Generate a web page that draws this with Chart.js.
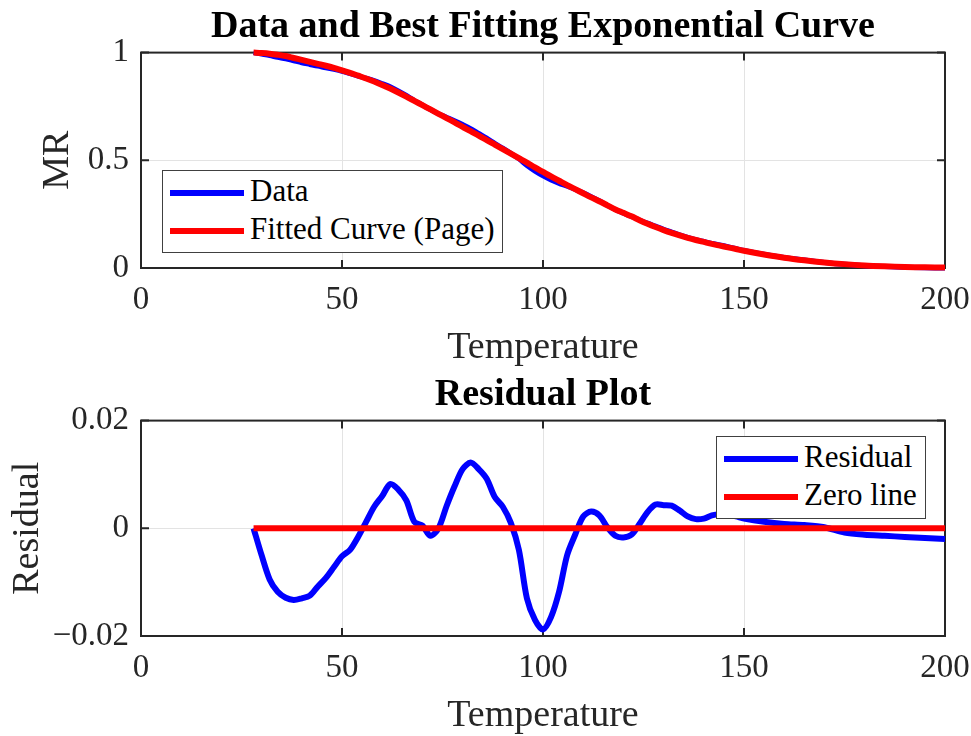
<!DOCTYPE html>
<html>
<head>
<meta charset="utf-8">
<script src="https://cdn.jsdelivr.net/npm/chart.js@4.4.1/dist/chart.umd.min.js"></script>
<style>
  body { margin: 0; background: #fff; }
  .panel { position: relative; width: 971px; height: 368px; }
  .legend {
    position: absolute; background: #fff; border: 1px solid #404040;
    font-family: 'Liberation Serif', 'Times New Roman', serif; font-size: 31px; color: #000;
    box-sizing: border-box;
  }
  .legend .row { position: absolute; left: 0; height: 36px; white-space: nowrap; }
  .legend .swatch { position: absolute; top: 15px; height: 6px; width: 74px; left: 7px; }
  .legend .txt { position: absolute; left: 87px; top: -2px; line-height: 36px; }
</style>
</head>
<body>
<div class="panel">
  <canvas id="mrChart" width="971" height="368"></canvas>
  <div class="legend" id="mrLegend" style="left:162px; top:170px; width:341px; height:83px;">
    <div class="row" style="top:4px;"><span class="swatch" style="background:#0000ff"></span><span class="txt">Data</span></div>
    <div class="row" style="top:42px;"><span class="swatch" style="background:#ff0000"></span><span class="txt">Fitted Curve (Page)</span></div>
  </div>
</div>
<div class="panel">
  <canvas id="resChart" width="971" height="368"></canvas>
  <div class="legend" id="resLegend" style="left:716px; top:68px; width:210px; height:83px;">
    <div class="row" style="top:4px;"><span class="swatch" style="background:#0000ff"></span><span class="txt">Residual</span></div>
    <div class="row" style="top:42px;"><span class="swatch" style="background:#ff0000"></span><span class="txt">Zero line</span></div>
  </div>
</div>
<script>
// temperature grid of the samples
const temperature = [28, 30, 32, 34, 36, 38, 40, 42, 44, 46, 48, 50, 52, 54, 56, 58, 60, 62, 64, 66,
  68, 70, 72, 74, 76, 78, 80, 82, 84, 86, 88, 90, 92, 94, 96, 98, 100, 102, 104, 106,
  108, 110, 112, 114, 116, 118, 120, 122, 124, 126, 128, 130, 132, 134, 136, 138, 140, 142, 144, 146,
  148, 150, 155, 160, 165, 170, 175, 180, 185, 190, 195, 200];

const mrData = [1.000, 0.993, 0.986, 0.978, 0.971, 0.962, 0.953, 0.945, 0.937, 0.930, 0.922, 0.913, 0.902, 0.891, 0.881, 0.870, 0.856, 0.841, 0.822, 0.801,
  0.777, 0.757, 0.735, 0.716, 0.700, 0.684, 0.666, 0.647, 0.625, 0.603, 0.579, 0.556, 0.532, 0.507, 0.476, 0.450, 0.428, 0.409, 0.393, 0.380,
  0.365, 0.349, 0.331, 0.312, 0.291, 0.271, 0.254, 0.239, 0.223, 0.208, 0.194, 0.180, 0.167, 0.154, 0.142, 0.132, 0.123, 0.114, 0.107, 0.099,
  0.090, 0.082, 0.064, 0.049, 0.037, 0.026, 0.017, 0.011, 0.007, 0.003, 0.001, 0.000];

const mrFitted = [1.000, 0.998, 0.995, 0.990, 0.984, 0.975, 0.966, 0.957, 0.948, 0.939, 0.929, 0.918, 0.906, 0.893, 0.880, 0.866, 0.850, 0.833, 0.815, 0.796,
  0.776, 0.756, 0.736, 0.716, 0.696, 0.676, 0.655, 0.635, 0.614, 0.594, 0.573, 0.552, 0.531, 0.510, 0.489, 0.467, 0.446, 0.425, 0.405, 0.385,
  0.366, 0.347, 0.328, 0.310, 0.291, 0.272, 0.256, 0.240, 0.222, 0.205, 0.190, 0.176, 0.163, 0.151, 0.140, 0.130, 0.121, 0.112, 0.104, 0.096,
  0.088, 0.080, 0.063, 0.048, 0.036, 0.026, 0.018, 0.012, 0.008, 0.005, 0.003, 0.002];

const residual = [0.0000, -0.0050, -0.0095, -0.0118, -0.0129, -0.0133, -0.0130, -0.0125, -0.0108, -0.0092, -0.0072, -0.0052, -0.0040, -0.0016, 0.0012, 0.0040, 0.0060, 0.0082, 0.0072, 0.0052,
  0.0012, 0.0005, -0.0014, 0.0000, 0.0041, 0.0078, 0.0110, 0.0122, 0.0110, 0.0092, 0.0058, 0.0040, 0.0010, -0.0040, -0.0130, -0.0170, -0.0188, -0.0165, -0.0118, -0.0050,
  -0.0012, 0.0022, 0.0031, 0.0024, 0.0002, -0.0014, -0.0017, -0.0012, 0.0008, 0.0030, 0.0044, 0.0043, 0.0042, 0.0033, 0.0022, 0.0017, 0.0018, 0.0024, 0.0026, 0.0025,
  0.0022, 0.0018, 0.0012, 0.0008, 0.0006, 0.0002, -0.0008, -0.0012, -0.0014, -0.0016, -0.0018, -0.0020];

const zeroLineX = [28, 200];
const zeroLineY = [0, 0];

const xTicks = [0, 50, 100, 150, 200];
const mrTicks = [0, 0.5, 1];
const residualTicks = [-0.02, 0, 0.02];

const FONT = "'Liberation Serif', 'Times New Roman', serif";
const INK = '#262626';

function pts(xs, ys) {
  return xs.map((x, i) => ({ x: x, y: ys[i] }));
}

// MATLAB style box with inward ticks
const boxPlugin = {
  id: 'box',
  beforeDatasetsDraw(chart) {
    const { ctx, chartArea: a, scales: { x, y } } = chart;
    ctx.save();
    ctx.strokeStyle = INK;
    ctx.lineWidth = 2;
    ctx.strokeRect(a.left, a.top, a.right - a.left, a.bottom - a.top);
    ctx.beginPath();
    x.ticks.forEach(t => {
      const px = x.getPixelForValue(t.value);
      ctx.moveTo(px, a.bottom); ctx.lineTo(px, a.bottom - 8);
      ctx.moveTo(px, a.top); ctx.lineTo(px, a.top + 8);
    });
    y.ticks.forEach(t => {
      const py = y.getPixelForValue(t.value);
      ctx.moveTo(a.left, py); ctx.lineTo(a.left + 8, py);
      ctx.moveTo(a.right, py); ctx.lineTo(a.right - 8, py);
    });
    ctx.stroke();
    ctx.restore();
  }
};

function tickText(v) {
  const s = String(Number(v.toFixed(4)));
  return s.replace('-', '\u2212');
}

function makeOptions(title, yTitle, yTitlePad, yMin, yMax, yTicks) {
  return {
    responsive: false,
    animation: false,
    layout: { padding: { left: 0, right: 26, top: 0, bottom: 0 } },
    plugins: {
      legend: { display: false },
      tooltip: { enabled: false },
      title: {
        display: true, fullSize: false, text: title, color: '#000',
        font: { family: FONT, size: 38, weight: 'bold' },
        padding: { top: 4, bottom: 3 }
      }
    },
    elements: { point: { radius: 0 } },
    scales: {
      x: {
        type: 'linear', min: 0, max: 200,
        afterBuildTicks: s => { s.ticks = xTicks.map(v => ({ value: v })); },
        afterFit: s => { s.height = 100; s.paddingLeft = 0; s.paddingRight = 0; },
        grid: { color: '#e3e3e3', lineWidth: 1, drawTicks: false },
        border: { display: false },
        ticks: { color: INK, font: { family: FONT, size: 33 }, padding: 13, maxRotation: 0 },
        title: { display: true, text: 'Temperature', color: INK, font: { family: FONT, size: 38 }, padding: { top: 0, bottom: -3 } }
      },
      y: {
        type: 'linear', min: yMin, max: yMax,
        afterBuildTicks: s => { s.ticks = yTicks.map(v => ({ value: v })); },
        afterFit: s => { s.width = 141; },
        grid: { color: '#e3e3e3', lineWidth: 1, drawTicks: false },
        border: { display: false },
        ticks: {
          color: INK, font: { family: FONT, size: 33 }, padding: 12,
          callback: v => tickText(v)
        },
        title: { display: true, text: yTitle, color: INK, font: { family: FONT, size: 38 }, padding: { top: yTitlePad, bottom: 0 } }
      }
    }
  };
}

new Chart(document.getElementById('mrChart'), {
  type: 'line',
  data: {
    datasets: [
      { label: 'Data', data: pts(temperature, mrData), borderColor: '#0000ff', borderWidth: 5, order: 1, clip: false, tension: 0.3 },
      { label: 'Fitted Curve (Page)', data: pts(temperature, mrFitted), borderColor: '#ff0000', borderWidth: 6, order: 0, clip: false, tension: 0.3 }
    ]
  },
  options: makeOptions('Data and Best Fitting Exponential Curve', 'MR', 35, 0, 1, mrTicks),
  plugins: [boxPlugin]
});

new Chart(document.getElementById('resChart'), {
  type: 'line',
  data: {
    datasets: [
      { label: 'Residual', data: pts(temperature, residual), borderColor: '#0000ff', borderWidth: 6, order: 1, clip: false, tension: 0.3 },
      { label: 'Zero line', data: pts(zeroLineX, zeroLineY), borderColor: '#ff0000', borderWidth: 6, order: 0, clip: false }
    ]
  },
  options: makeOptions('Residual Plot', 'Residual', 5, -0.02, 0.02, residualTicks),
  plugins: [boxPlugin]
});
</script>
</body>
</html>
